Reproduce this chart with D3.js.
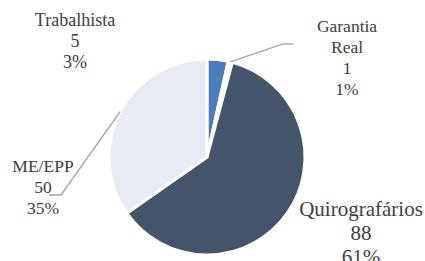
<!DOCTYPE html>
<html>
<head>
<meta charset="utf-8">
<script src="https://cdn.jsdelivr.net/npm/d3@7"></script>
<style>
  body { margin: 0; background: #fff; }
</style>
</head>
<body>
<div id="chart"></div>
<script>
// slice order, clockwise from 12 o'clock
const categories = ['Trabalhista', 'Garantia Real', 'Quirografários', 'ME/EPP'];
const values = [5, 1, 88, 50];
const percents = ['3%', '1%', '61%', '35%'];
const colors = ['#4a7ebb', '#ffffff', '#44546a', '#e8eaf4'];

const width = 425, height = 261;
const cx = 207, cy = 157, radius = 98;
const serif = "'Liberation Serif', 'Times New Roman', 'DejaVu Serif', serif";

const svg = d3.select('#chart').append('svg')
  .attr('width', width)
  .attr('height', height);

const g = svg.append('g')
  .attr('transform', 'translate(' + cx + ',' + cy + ')');

const pie = d3.pie().sort(null).value(d => d);
const arc = d3.arc().innerRadius(0).outerRadius(radius);
const outer = d3.arc().innerRadius(radius).outerRadius(radius);

const arcs = pie(values);

g.selectAll('path')
  .data(arcs)
  .enter().append('path')
  .attr('d', arc)
  .attr('fill', (d, i) => colors[i])
  .attr('stroke', '#fff')
  .attr('stroke-width', 3);

// label placement: center x, first baseline, font size, line gap (svg coords)
const labelPos = [
  {x: 75, y: 26, size: 18, gap: 21},
  {x: 347, y: 32, size: 17.5, gap: 21},
  {x: 361, y: 216, size: 21, gap: 24},
  {x: 43, y: 172, size: 17.5, gap: 21}
];
// leader elbows (svg coords), null = no leader
const leaders = [
  null,
  [[283, 44], [293, 44]],
  null,
  [[61, 195], [49, 195]]
];

arcs.forEach((d, i) => {
  const lp = labelPos[i];
  const lines = categories[i] === 'Garantia Real'
    ? ['Garantia', 'Real', values[i], percents[i]]
    : [categories[i], values[i], percents[i]];
  const t = svg.append('text')
    .attr('text-anchor', 'middle')
    .attr('font-family', serif)
    .attr('font-size', lp.size)
    .attr('fill', '#404040');
  lines.forEach((l, k) => {
    t.append('tspan')
      .attr('x', lp.x)
      .attr('y', lp.y + k * lp.gap)
      .text(l);
  });

  if (leaders[i]) {
    const c = outer.centroid(d);
    const pts = [[cx + c[0], cy + c[1]]].concat(leaders[i]);
    svg.append('path')
      .attr('d', d3.line()(pts))
      .attr('fill', 'none')
      .attr('stroke', '#a6a6a6')
      .attr('stroke-width', 1.3);
  }
});
</script>
</body>
</html>
